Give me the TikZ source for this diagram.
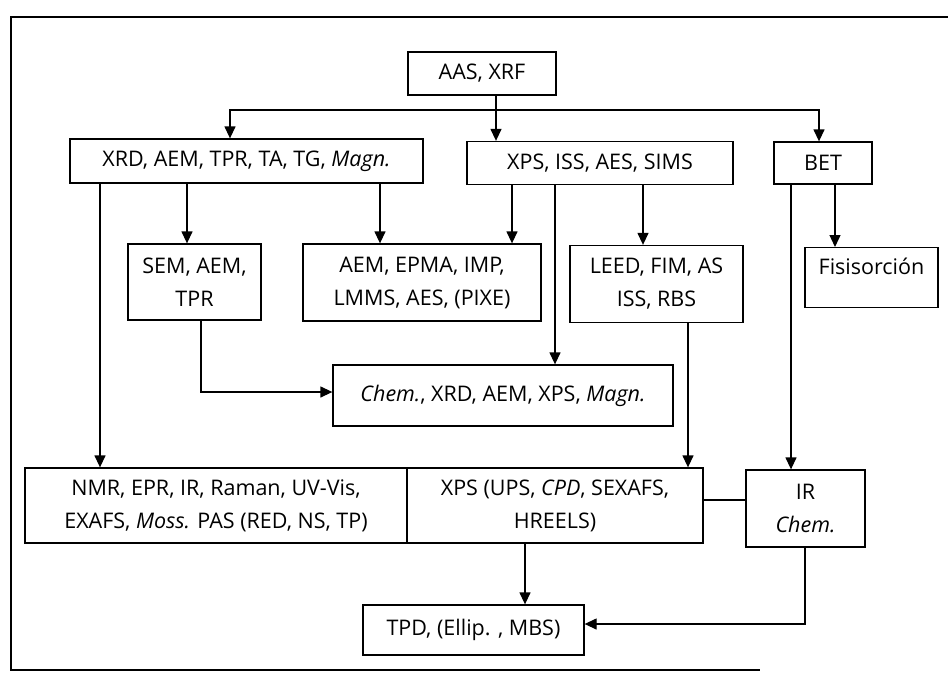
\documentclass[tikz,border=0pt]{standalone}
\usepackage{fontspec}
\setmainfont{Open Sans}
\usetikzlibrary{arrows.meta}
\begin{document}
\begin{tikzpicture}[x=1pt,y=-1pt,
  box/.style={draw,line width=1.3pt,inner sep=0pt,align=center,font=\fontsize{21.5}{33}\selectfont},
  arr/.style={line width=1.3pt,-{Triangle[length=12pt,width=11pt]}},
  ln/.style={line width=1.3pt}]
\useasboundingbox (0,0) rectangle (948,675);
% frame
\draw[ln] (948,17) -- (11,17) -- (11,670) -- (760,670);
% boxes
\node[box,minimum width=148,minimum height=43] (aas) at (482,73.5) {AAS,\ XRF};
\node[box,minimum width=353,minimum height=44] (xrd) at (246.5,161) {XRD, AEM, TPR, TA, TG, \textit{Magn.}};
\node[box,minimum width=266,minimum height=43] (xps) at (600,163) {XPS, ISS, AES, SIMS};
\node[box,minimum width=98,minimum height=42] (bet) at (823,163) {BET};
\node[box,minimum width=133,minimum height=76] (sem) at (194.5,282) {SEM, AEM,\\TPR};
\node[box,minimum width=238,minimum height=77] (aem) at (422,282.5) {AEM, EPMA, IMP,\\LMMS, AES, (PIXE)};
\node[box,minimum width=173,minimum height=77] (leed) at (656.5,284) {LEED, FIM, AS\\ISS, RBS};
\node[box,minimum width=133,minimum height=60,anchor=north,text depth=22pt] (fis) at (871.5,247) {Fisisorción};
\node[box,minimum width=340,minimum height=61] (chem) at (503,395.5) {\textit{Chem.}, XRD, AEM, XPS, \textit{Magn.}};
\node[box,minimum width=382,minimum height=75] (nmr) at (216,505.5) {NMR, EPR, IR, Raman, UV-Vis,\\EXAFS, \textit{Moss.} PAS (RED, NS, TP)};
\node[box,minimum width=296,minimum height=75] (xpsu) at (555,505.5) {XPS (UPS, \textit{CPD}, SEXAFS,\\HREELS)};
\node[box,minimum width=119,minimum height=77] (ir) at (805.5,508.5) {IR\\\textit{Chem.}};
\node[box,minimum width=221,minimum height=50] (tpd) at (473.5,630) {TPD, (Ellip. , MBS)};
% connectors
\coordinate (bl) at (230,110);
\coordinate (br) at (819,110);
\draw[ln] (aas.south -| 496,0) -- (496,110);
\draw[arr] (aas.south -| 496,0) -- (xps.north -| 496,0);
\draw[arr] (496,110) -| (xrd.north -| bl);
\draw[arr] (496,110) -| (bet.north -| br);
\draw[arr] (xrd.south -| 100,0) -- (nmr.north -| 100,0);
\draw[arr] (xrd.south -| 187,0) -- (sem.north -| 187,0);
\draw[arr] (xrd.south -| 380,0) -- (aem.north -| 380,0);
\draw[arr] (xps.south -| 512,0) -- (aem.north -| 512,0);
\draw[arr] (xps.south -| 555,0) -- (chem.north -| 555,0);
\draw[arr] (xps.south -| 643,0) -- (leed.north -| 643,0);
\draw[arr] (bet.south -| 791,0) -- (ir.north -| 791,0);
\draw[arr] (bet.south -| 835,0) -- (fis.north -| 835,0);
\draw[arr] (sem.south -| 201,0) |- (chem.west |- 0,392);
\draw[arr] (leed.south -| 688,0) -- (xpsu.north -| 688,0);
\draw[ln] (xpsu.east |- 0,500) -- (ir.west |- 0,500);
\draw[arr] (xpsu.south -| 525,0) -- (tpd.north -| 525,0);
\draw[arr] (ir.south -| 805,0) |- (tpd.east |- 0,624);
\end{tikzpicture}
\end{document}
